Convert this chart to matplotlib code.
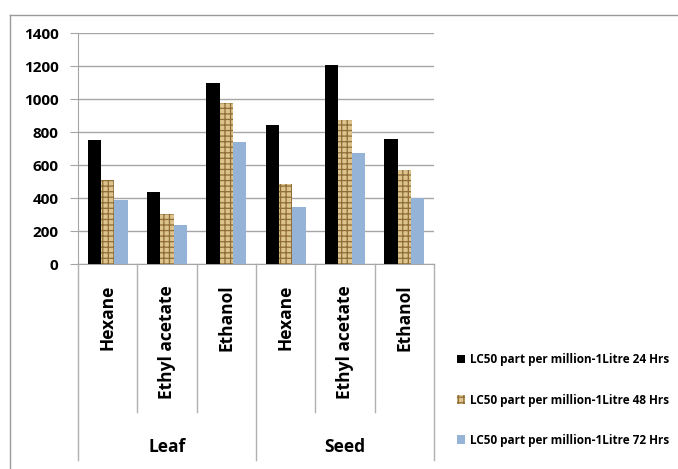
import matplotlib
matplotlib.use("Agg")
import matplotlib.pyplot as plt
import numpy as np
from matplotlib.lines import Line2D
from matplotlib.patches import Patch

plt.rcParams["font.family"] = ["Open Sans", "DejaVu Sans"]
plt.rcParams["font.weight"] = "bold"
plt.rcParams["hatch.linewidth"] = 0.9

# LC50 values (ppm) for each plant part / solvent extract
parts = ["Leaf", "Seed"]
solvents = ["Hexane", "Ethyl acetate", "Ethanol", "Hexane", "Ethyl acetate", "Ethanol"]
hrs24 = [750, 435, 1100, 845, 1205, 755]
hrs48 = [510, 305, 975, 485, 875, 570]
hrs72 = [390, 235, 740, 345, 675, 400]
labels = ["LC50 part per million-1Litre 24 Hrs",
          "LC50 part per million-1Litre 48 Hrs",
          "LC50 part per million-1Litre 72 Hrs"]

W, H = 678, 469
fig = plt.figure(figsize=(W / 100, H / 100), dpi=100)
ax = fig.add_axes([78 / W, (H - 264) / H, (434 - 78) / W, (264 - 33) / H])

tan, brown = "#dcc48c", "#8f6c38"
x = np.arange(len(solvents))
bw = 0.223
ax.bar(x - bw, hrs24, bw, color="black", zorder=3)
ax.bar(x, hrs48, bw, color=tan, edgecolor=brown, linewidth=0, hatch="+++", zorder=3)
ax.bar(x + bw, hrs72, bw, color="#95b3d7", zorder=3)

ax.set_xlim(-0.5, len(solvents) - 0.5)
ax.set_ylim(0, 1400)
ax.set_yticks(range(0, 1401, 200))
ax.yaxis.grid(True, color="#a6a6a6", linewidth=1, zorder=0)
ax.tick_params(axis="y", length=6, color="#a6a6a6", labelsize=11, pad=8)
ax.tick_params(axis="x", length=0, labelbottom=False)
for s in ["top", "right"]:
    ax.spines[s].set_visible(False)
ax.spines["left"].set_color("#a6a6a6")
ax.spines["bottom"].set_color("#a6a6a6")

# category table underneath the axis
tr = ax.get_xaxis_transform()
for k in range(len(solvents) + 1):
    xb = k - 0.5
    y_end = -0.848 if k % 3 == 0 else -0.641
    ax.add_line(Line2D([xb, xb], [0, y_end], transform=tr, color="#b0b0b0",
                       linewidth=1, clip_on=False))
for i, s in enumerate(solvents):
    ax.text(i, -0.09, s, transform=tr, rotation=90, ha="center", va="top",
            fontsize=12.5)
for j, p in enumerate(parts):
    ax.text(3 * j + 1, -0.792, p, transform=tr, ha="center", va="center",
            fontsize=12.5)

# outer chart frame
fig.add_artist(Line2D([10 / W, 1], [(H - 15) / H] * 2, color="#9a9a9a", linewidth=1))
fig.add_artist(Line2D([10 / W] * 2, [0, (H - 15) / H], color="#9a9a9a", linewidth=1))

handles = [Patch(facecolor="black"),
           Patch(facecolor=tan, edgecolor=brown, linewidth=0, hatch="+++"),
           Patch(facecolor="#95b3d7")]
fig.legend(handles, labels, loc="center left", bbox_to_anchor=(446 / W, (H - 400) / H),
           frameon=False, fontsize=8.5, handlelength=0.7, handleheight=0.7,
           handletextpad=0.4, labelspacing=2.3)

fig.savefig("out.png", dpi=100)
